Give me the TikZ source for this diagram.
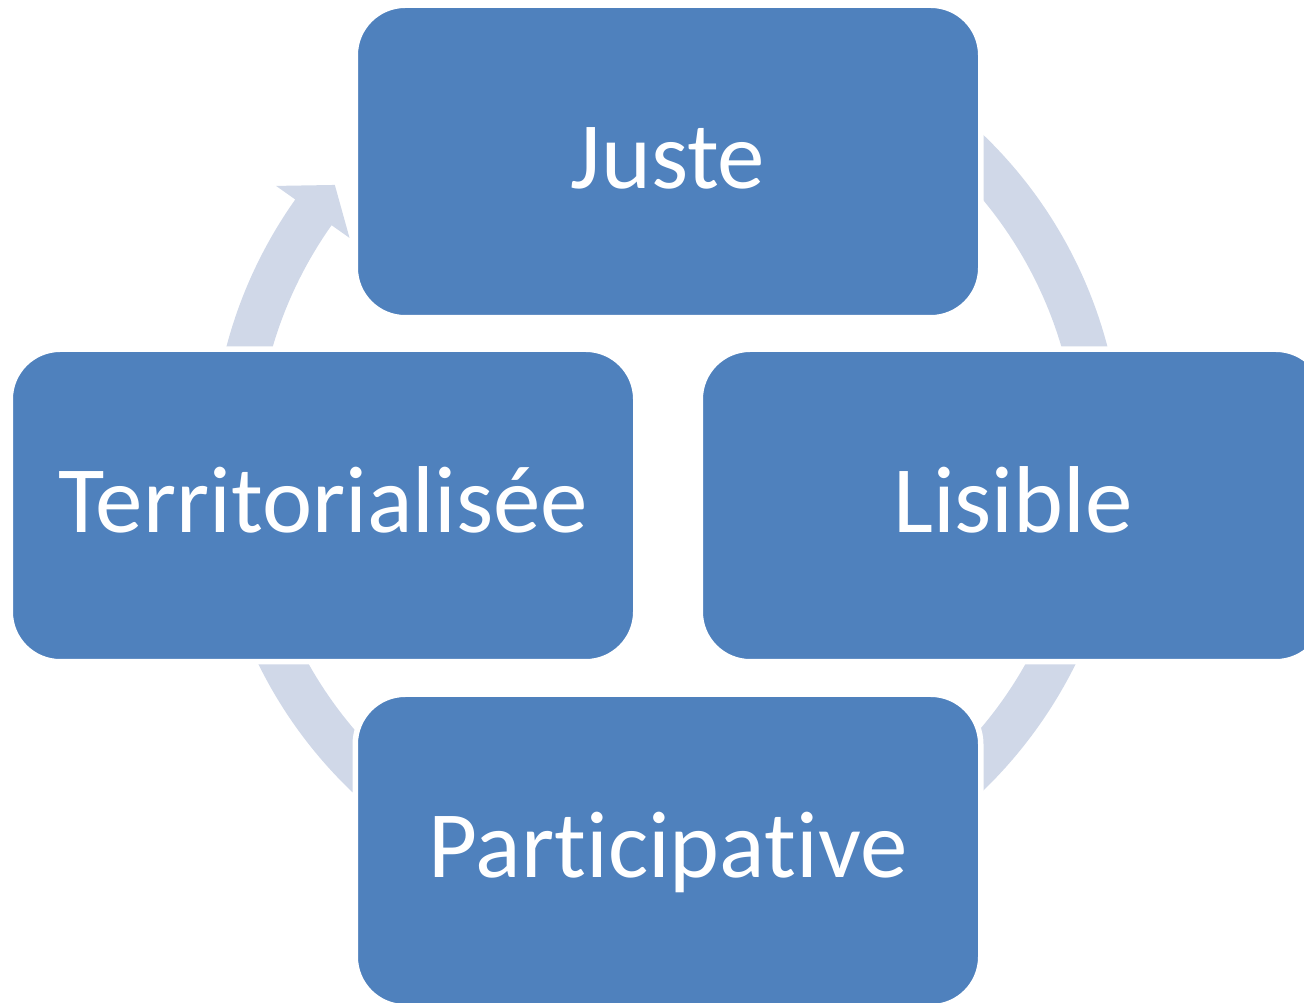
\documentclass[tikz,border=0pt]{standalone}
\usepackage{fontspec}
\setmainfont{Carlito}[Ligatures={NoCommon,NoContextual}]
\definecolor{boxblue}{HTML}{4F81BD}
\definecolor{ringblue}{HTML}{D0D8E8}
\begin{document}
\begin{tikzpicture}[x=1pt,y=1pt,
  cyclebox/.style={draw=white, line width=5.5pt, fill=boxblue, rounded corners=50pt,
    minimum width=625.5pt, minimum height=312.5pt, inner sep=0pt, text=white,
    font=\fontsize{95}{114}\selectfont, text height=54pt, text depth=0pt},
  ring/.style={fill=ringblue}]
\useasboundingbox (0,0) rectangle (1304,1002);
\begin{scope}[shift={(667,539.3)}]
  \fill[ring] (144.7:455.5pt) arc[start angle=144.7, end angle=440, radius=455.5pt]
    -- (440:411pt) arc[start angle=440, end angle=144.7, radius=411pt]
    -- (144.7:389pt) -- (140.1:433pt) -- (144.7:479pt) -- cycle;
\end{scope}
\node[cyclebox] (juste) at (668,840.5) {Juste};
\node[cyclebox] (lisible) at (1013,496.5) {Lisible};
\node[cyclebox] (terr) at (323,496.5) {Territorialisée};
\node[cyclebox] (part) at (668,151.5) {Participative};
\end{tikzpicture}
\end{document}
